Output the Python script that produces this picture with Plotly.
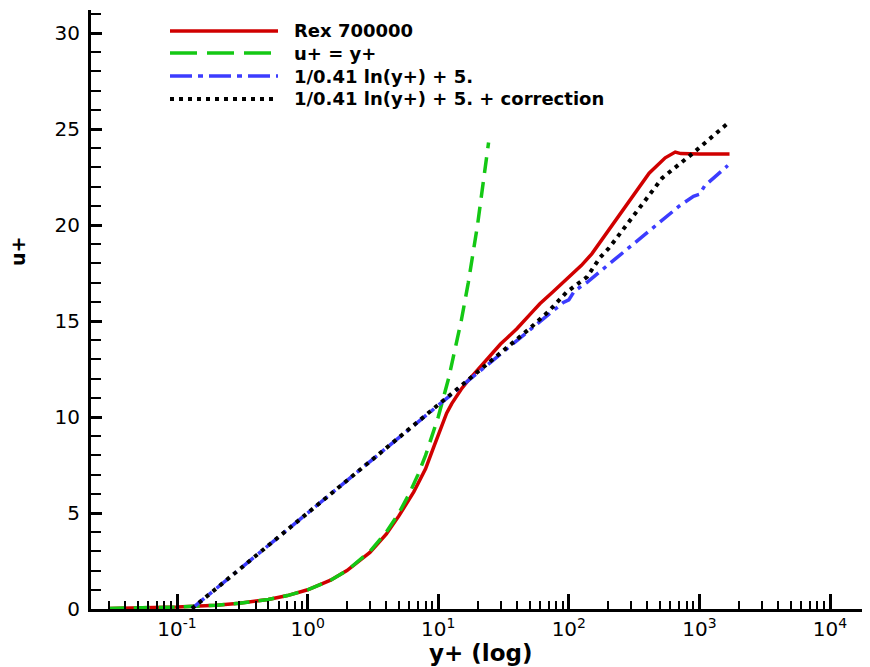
import plotly.graph_objects as go

# ---------------- data ----------------
rex_yplus = [0.03, 0.05, 0.1, 0.2, 0.3, 0.5, 0.7, 1.0, 1.5, 2.0, 3.0, 4.0, 5.0, 6.5, 8.0, 9.2,
             10.5, 11.6, 12.7, 13.8, 15.0, 16.5, 20.9, 25.0, 30.0, 33.5, 40.0, 53.0, 60.0, 75.0,
             96.0, 125.0, 150.0, 173.0, 224.0, 300.0, 412.0, 547.0, 653.0, 720.0, 800.0, 1000.0,
             1700.0]
rex_uplus = [0.03, 0.05, 0.1, 0.2, 0.3, 0.5, 0.7, 1.0, 1.5, 2.0, 2.95, 3.9, 4.85, 6.1, 7.3, 8.4,
             9.5, 10.2, 10.7, 11.1, 11.45, 11.8, 12.6, 13.2, 13.8, 14.1, 14.6, 15.5, 15.9, 16.5,
             17.2, 17.9, 18.5, 19.1, 20.2, 21.4, 22.7, 23.5, 23.8, 23.72, 23.7, 23.7, 23.7]

lin_yplus = [0.03, 0.05, 0.1, 0.2, 0.3, 0.5, 0.7, 1.0, 1.5, 2.0, 3.0, 4.0, 5.0, 6.0, 7.0, 8.0,
             10.0, 12.0, 15.0, 17.0, 20.0, 24.3]
lin_uplus = [0.03, 0.05, 0.1, 0.2, 0.3, 0.5, 0.7, 1.0, 1.5, 2.0, 3.0, 4.0, 5.0, 6.0, 7.0, 8.0,
             10.0, 12.0, 15.0, 17.0, 20.0, 24.3]

log_yplus = [0.13, 0.2, 0.3, 0.5, 0.7, 1.0, 1.5, 2.0, 3.0, 5.0, 7.0, 10.0, 15.0, 20.0, 30.0,
             50.0, 70.0, 90.0, 100.0, 110.0, 138.0, 182.0, 224.0, 363.0, 500.0, 702.0, 900.0,
             1000.0, 1100.0, 1650.0]
log_uplus = [0.02, 1.08, 2.06, 3.31, 4.13, 5.0, 5.99, 6.69, 7.68, 8.93, 9.75, 10.62, 11.6, 12.31,
             13.3, 14.54, 15.36, 15.95, 16.1, 16.55, 17.02, 17.7, 18.19, 19.38, 20.16, 20.99,
             21.5, 21.6, 22.05, 23.1]

cor_yplus = [0.13, 0.2, 0.3, 0.5, 0.7, 1.0, 1.5, 2.0, 3.0, 5.0, 7.0, 10.0, 15.0, 20.0, 30.0,
             50.0, 70.0, 96.0, 138.0, 173.0, 203.0, 305.0, 519.0, 895.0, 1445.0, 1650.0]
cor_uplus = [0.02, 1.08, 2.06, 3.31, 4.13, 5.0, 5.99, 6.69, 7.68, 8.93, 9.75, 10.62, 11.6, 12.31,
             13.3, 14.6, 15.5, 16.5, 17.3, 18.3, 18.8, 20.4, 22.45, 23.75, 24.95, 25.3]

series_names = ["Rex 700000", "u+ = y+", "1/0.41 ln(y+) + 5.", "1/0.41 ln(y+) + 5. + correction"]

x_tick_vals = [0.1, 1, 10, 100, 1000, 10000]
x_tick_text = ["10<sup>-1</sup>", "10<sup>0</sup>", "10<sup>1</sup>", "10<sup>2</sup>",
               "10<sup>3</sup>", "10<sup>4</sup>"]
y_tick_vals = [0, 5, 10, 15, 20, 25, 30]

# ---------------- styles ----------------
RED = "rgb(208,0,0)"
GREEN = "rgb(20,200,20)"
BLUE = "rgb(60,60,255)"
BLACK = "black"
FONT = "DejaVu Sans"

# The page body has an 8 px margin, so the figure is drawn 8 px in from the window corner.
PAGE_OFF = 8
FIG_W, FIG_H = 870 - PAGE_OFF, 667 - PAGE_OFF

fig = go.Figure()
fig.add_trace(go.Scatter(x=rex_yplus, y=rex_uplus, mode="lines", name=series_names[0],
                         line=dict(color=RED, width=3.5)))
fig.add_trace(go.Scatter(x=lin_yplus, y=lin_uplus, mode="lines", name=series_names[1],
                         line=dict(color=GREEN, width=3.5, dash="16px,9px")))
fig.add_trace(go.Scatter(x=log_yplus, y=log_uplus, mode="lines", name=series_names[2],
                         line=dict(color=BLUE, width=3.5, dash="16px,6px,4px,6px")))
fig.add_trace(go.Scatter(x=cor_yplus, y=cor_uplus, mode="lines", name=series_names[3],
                         line=dict(color=BLACK, width=4, dash="4px,5px")))

# plot-area edges in window pixels
plot_left, plot_right, plot_top, plot_bottom = 91, 870, 10, 609
def px_x(p):
    return (p - plot_left) / (plot_right - plot_left)
def px_y(p):
    return (plot_bottom - p) / (plot_bottom - plot_top)

legend_rows = [31, 53, 76, 99]
legend_styles = [dict(color=RED, width=3.5),
                 dict(color=GREEN, width=3.5, dash="27px,10px"),
                 dict(color=BLUE, width=3.5, dash="22px,6px,5px,6px"),
                 dict(color=BLACK, width=4, dash="4px,5px")]
shapes = []
annotations = []
for name, row, style in zip(series_names, legend_rows, legend_styles):
    shapes.append(dict(type="line", xref="paper", yref="paper",
                       x0=px_x(170), x1=px_x(278), y0=px_y(row), y1=px_y(row), line=style))
    annotations.append(dict(xref="paper", yref="paper", x=px_x(292), y=px_y(row),
                            xanchor="left", yanchor="middle", showarrow=False,
                            text="<b>" + name + "</b>",
                            font=dict(family=FONT, size=18, color="black")))

annotations.append(dict(xref="paper", yref="paper", x=0.5, y=px_y(653), xanchor="center",
                        yanchor="middle", showarrow=False, text="<b>y+ (log)</b>",
                        font=dict(family=FONT, size=23, color="black")))
annotations.append(dict(xref="paper", yref="paper", x=px_x(18), y=px_y(252), xanchor="center",
                        yanchor="middle", showarrow=False, text="<b>u+</b>", textangle=-90,
                        font=dict(family=FONT, size=19, color="black")))

minor_x = [m * 10.0 ** e for e in range(-2, 5) for m in range(2, 10)]

fig.update_layout(
    width=FIG_W, height=FIG_H,
    margin=dict(l=plot_left - PAGE_OFF, r=870 - plot_right, t=plot_top - PAGE_OFF,
                b=667 - plot_bottom, autoexpand=False),
    paper_bgcolor="white", plot_bgcolor="white",
    showlegend=False,
    shapes=shapes, annotations=annotations,
    font=dict(family=FONT, color="black"),
    xaxis=dict(type="log", range=[-1.6585, 4.306], showgrid=False, zeroline=False,
               showline=True, linewidth=3, linecolor="black",
               ticks="inside", ticklen=15, tickwidth=3, tickcolor="black",
               tickvals=x_tick_vals, ticktext=x_tick_text,
               tickfont=dict(family=FONT, size=20, color="black"),
               minor=dict(ticks="inside", ticklen=8, tickwidth=2, tickcolor="black",
                          tickvals=minor_x, showgrid=False)),
    yaxis=dict(range=[0, 31.2], showgrid=False, zeroline=False,
               showline=True, linewidth=3, linecolor="black",
               ticks="inside", ticklen=11, tickwidth=3, tickcolor="black",
               tickvals=y_tick_vals, ticklabelstandoff=4,
               tickfont=dict(family=FONT, size=20, color="black"),
               minor=dict(ticks="inside", ticklen=10, tickwidth=2, tickcolor="black",
                          dtick=1, showgrid=False)),
)

fig.write_html("out.html")
